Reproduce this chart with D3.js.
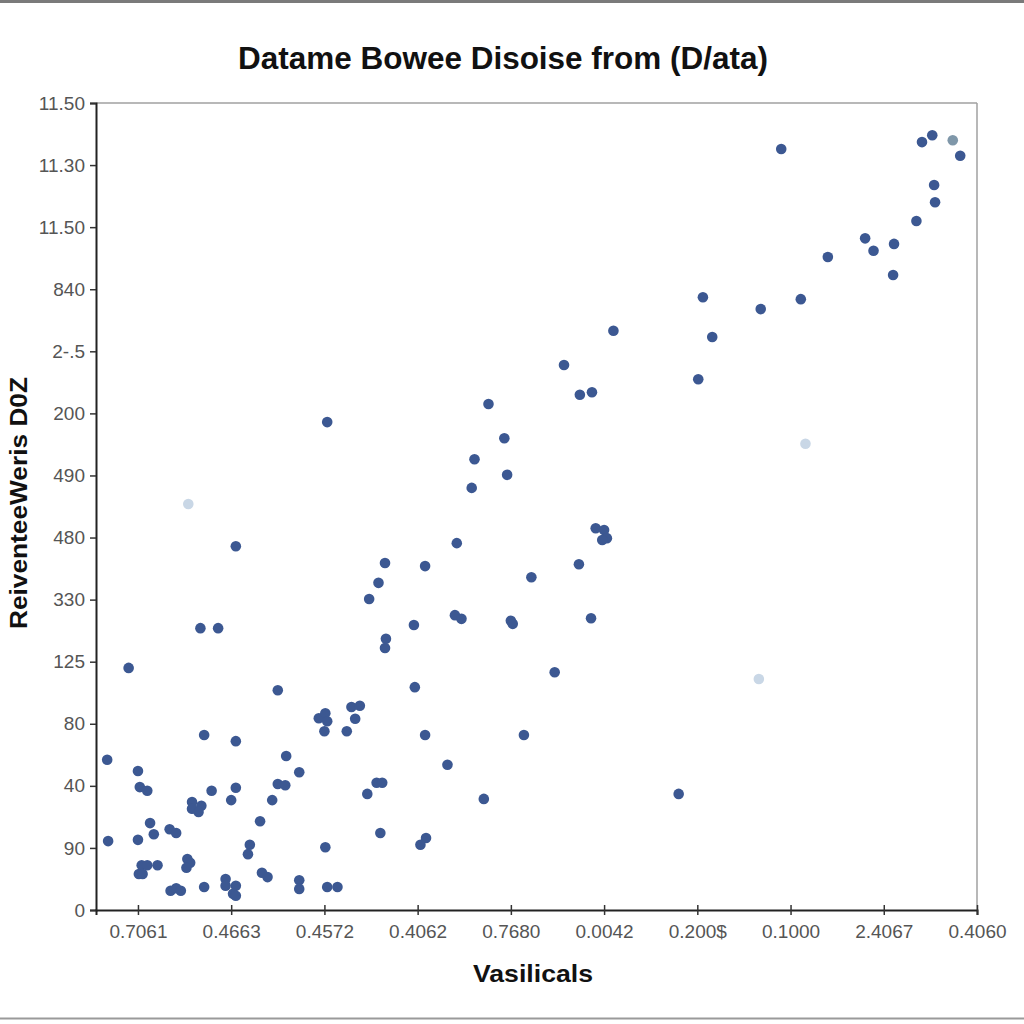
<!DOCTYPE html>
<html>
<head>
<meta charset="utf-8">
<script src="https://cdn.jsdelivr.net/npm/d3@7"></script>
<style>
  html, body { margin: 0; padding: 0; background: #fff; }
  svg { display: block; }
</style>
</head>
<body>
<svg id="chart" width="1024" height="1024"></svg>
<script>
// ---- Data ----
const titleText = "Datame Bowee Disoise from (D/ata)";
const xAxisLabel = "Vasilicals";
const yAxisLabel = "ReiventeeWeris D0Z";

const xTickLabels = ["0.7061", "0.4663", "0.4572", "0.4062", "0.7680", "0.0042", "0.200$", "0.1000", "2.4067", "0.4060"];
const yTickLabels = ["0", "90", "40", "80", "125", "330", "480", "490", "200", "2-.5", "840", "11.50", "11.30", "11.50"];

// main (dark blue) points, in tick-index units
const mainX = [8.41, 8.52, 8.82, 8.54, 8.55, 8.35, 7.80, 7.89, 8.11, 8.10, 7.40, 7.11, 6.90, 6.06, 6.68, 6.16, 6.01,
  5.10, 4.57, 4.74, 4.87, 3.76, 2.03, 3.93, 3.61, 3.96, 3.58, 1.05, 3.42, 4.91, 5.00, 5.03, 4.98, 2.65, 3.08, 4.73,
  4.22, 2.58, 2.48, 3.40, 3.47, 2.96, 4.00, 4.02, 4.86, 2.66, 2.65, 0.67, 0.86, -0.10, 4.47, 1.50, 2.97, 1.94, 2.01,
  2.03, 2.00, 2.29, 2.38, 2.33, 2.24, 0.71, 1.05, 3.08, 4.14, -0.33, 0.00, 0.02, 0.10, 1.59, 1.73, 1.50, 1.58, 0.79,
  1.05, 1.00, 0.58, 0.58, 0.68, 0.65, 1.44, 3.32, 2.46, 2.56, 2.62, 3.71, 5.80, 0.13, 0.17, 0.34, 0.41, 1.31, -0.32,
  0.00, 2.01, 2.60, 3.09, 3.03, 1.20, 1.18, 0.53, 0.56, 0.52, 0.04, 0.10, 0.01, 0.05, 0.21, 1.33, 1.39, 1.73, 1.73,
  2.03, 2.14, 0.71, 0.35, 0.41, 0.46, 0.94, 0.94, 1.05, 1.02, 1.05];
const mainY = [12.37, 12.48, 12.15, 11.68, 11.40, 11.10, 10.82, 10.62, 10.73, 10.23, 10.52, 9.84, 12.26, 9.87, 9.68,
  9.23, 8.55, 9.33, 8.78, 8.30, 8.34, 8.15, 7.86, 7.60, 7.26, 7.01, 6.80, 5.86, 5.91, 6.15, 6.12, 5.99, 5.96, 5.59,
  5.54, 5.57, 5.36, 5.27, 5.01, 4.75, 4.69, 4.59, 4.66, 4.61, 4.70, 4.37, 4.22, 4.54, 4.54, 3.90, 3.83, 3.54, 3.59,
  3.09, 3.17, 3.04, 2.88, 3.27, 3.29, 3.08, 2.88, 2.82, 2.72, 2.82, 2.82, 2.42, 2.24, 1.98, 1.92, 2.48, 2.22, 2.03,
  2.01, 1.92, 1.97, 1.77, 1.74, 1.63, 1.68, 1.58, 1.77, 2.34, 1.87, 2.05, 2.05, 1.79, 1.87, 1.40, 1.22, 1.30, 1.24,
  1.43, 1.11, 1.13, 1.01, 1.24, 1.16, 1.05, 1.05, 0.90, 0.82, 0.76, 0.68, 0.72, 0.72, 0.58, 0.58, 0.72, 0.60, 0.53,
  0.48, 0.34, 0.37, 0.37, 0.37, 0.31, 0.35, 0.31, 0.50, 0.39, 0.39, 0.26, 0.23];

// faded (pale blue) points
const fadedX = [7.16, 0.54, 6.66];
const fadedY = [7.51, 6.54, 3.72];

// grayish point
const grayX = [8.74];
const grayY = [12.40];

// ---- Layout ----
const svg = d3.select("#chart");
const plotLeft = 96, plotRight = 977, plotTop = 103, plotBottom = 910;

const x = d3.scaleLinear().domain([-0.45, 9]).range([plotLeft, plotRight]);
const y = d3.scaleLinear().domain([0, 13]).range([plotBottom, plotTop]);

// outer frame lines
svg.append("line").attr("x1", 0).attr("x2", 1024).attr("y1", 1.5).attr("y2", 1.5)
  .attr("stroke", "#7a7a7a").attr("stroke-width", 3);
svg.append("line").attr("x1", 0).attr("x2", 1024).attr("y1", 1018.5).attr("y2", 1018.5)
  .attr("stroke", "#9a9a9a").attr("stroke-width", 2);

// plot box (top/right gray)
svg.append("line").attr("x1", plotLeft).attr("x2", plotRight).attr("y1", plotTop).attr("y2", plotTop)
  .attr("stroke", "#a0a0a0").attr("stroke-width", 1.5);
svg.append("line").attr("x1", plotRight).attr("x2", plotRight).attr("y1", plotTop).attr("y2", plotBottom)
  .attr("stroke", "#a0a0a0").attr("stroke-width", 1.5);

// title
svg.append("text")
  .attr("x", 503).attr("y", 69)
  .attr("text-anchor", "middle")
  .attr("font-family", "Liberation Sans, Arial, sans-serif")
  .attr("font-weight", "bold")
  .attr("font-size", 31)
  .attr("fill", "#111")
  .attr("textLength", 530)
  .attr("lengthAdjust", "spacingAndGlyphs")
  .text(titleText);

// y axis
const yAxis = d3.axisLeft(y)
  .tickValues(d3.range(yTickLabels.length))
  .tickFormat((d, i) => yTickLabels[i])
  .tickSize(6).tickPadding(5);
const gy = svg.append("g").attr("transform", `translate(${plotLeft},0)`).call(yAxis);
gy.select(".domain").attr("stroke", "#222").attr("stroke-width", 2);
gy.selectAll(".tick line").attr("stroke", "#333").attr("stroke-width", 1.5);
gy.selectAll(".tick text")
  .attr("font-family", "Liberation Sans, Arial, sans-serif")
  .attr("font-size", 19).attr("fill", "#555");

// x axis
const xAxis = d3.axisBottom(x)
  .tickValues(d3.range(xTickLabels.length))
  .tickFormat((d, i) => xTickLabels[i])
  .tickSize(5).tickPadding(10);
const gx = svg.append("g").attr("transform", `translate(0,${plotBottom})`).call(xAxis);
gx.select(".domain").attr("stroke", "#222").attr("stroke-width", 2);
gx.selectAll(".tick line").attr("y1", -5).attr("stroke", "#333").attr("stroke-width", 1.5);
gx.selectAll(".tick text")
  .attr("font-family", "Liberation Sans, Arial, sans-serif")
  .attr("font-size", 19).attr("fill", "#555");

// axis labels
svg.append("text")
  .attr("x", 533).attr("y", 982)
  .attr("text-anchor", "middle")
  .attr("font-family", "Liberation Sans, Arial, sans-serif")
  .attr("font-weight", "bold").attr("font-size", 24)
  .attr("fill", "#111")
  .attr("textLength", 120)
  .attr("lengthAdjust", "spacingAndGlyphs")
  .text(xAxisLabel);

svg.append("text")
  .attr("transform", "translate(27,503) rotate(-90)")
  .attr("text-anchor", "middle")
  .attr("font-family", "Liberation Sans, Arial, sans-serif")
  .attr("font-weight", "bold").attr("font-size", 24)
  .attr("fill", "#111")
  .attr("textLength", 252)
  .attr("lengthAdjust", "spacingAndGlyphs")
  .text(yAxisLabel);

// points
const pts = svg.append("g");
pts.selectAll("circle.faded").data(fadedX.map((v, i) => [v, fadedY[i]]))
  .enter().append("circle").attr("class", "faded")
  .attr("cx", d => x(d[0])).attr("cy", d => y(d[1])).attr("r", 5.3)
  .attr("fill", "#c9d7e6");
pts.selectAll("circle.main").data(mainX.map((v, i) => [v, mainY[i]]))
  .enter().append("circle").attr("class", "main")
  .attr("cx", d => x(d[0])).attr("cy", d => y(d[1])).attr("r", 5.3)
  .attr("fill", "#3c5892");
pts.selectAll("circle.gray").data(grayX.map((v, i) => [v, grayY[i]]))
  .enter().append("circle").attr("class", "gray")
  .attr("cx", d => x(d[0])).attr("cy", d => y(d[1])).attr("r", 5.3)
  .attr("fill", "#7f97a9");
</script>
</body>
</html>
